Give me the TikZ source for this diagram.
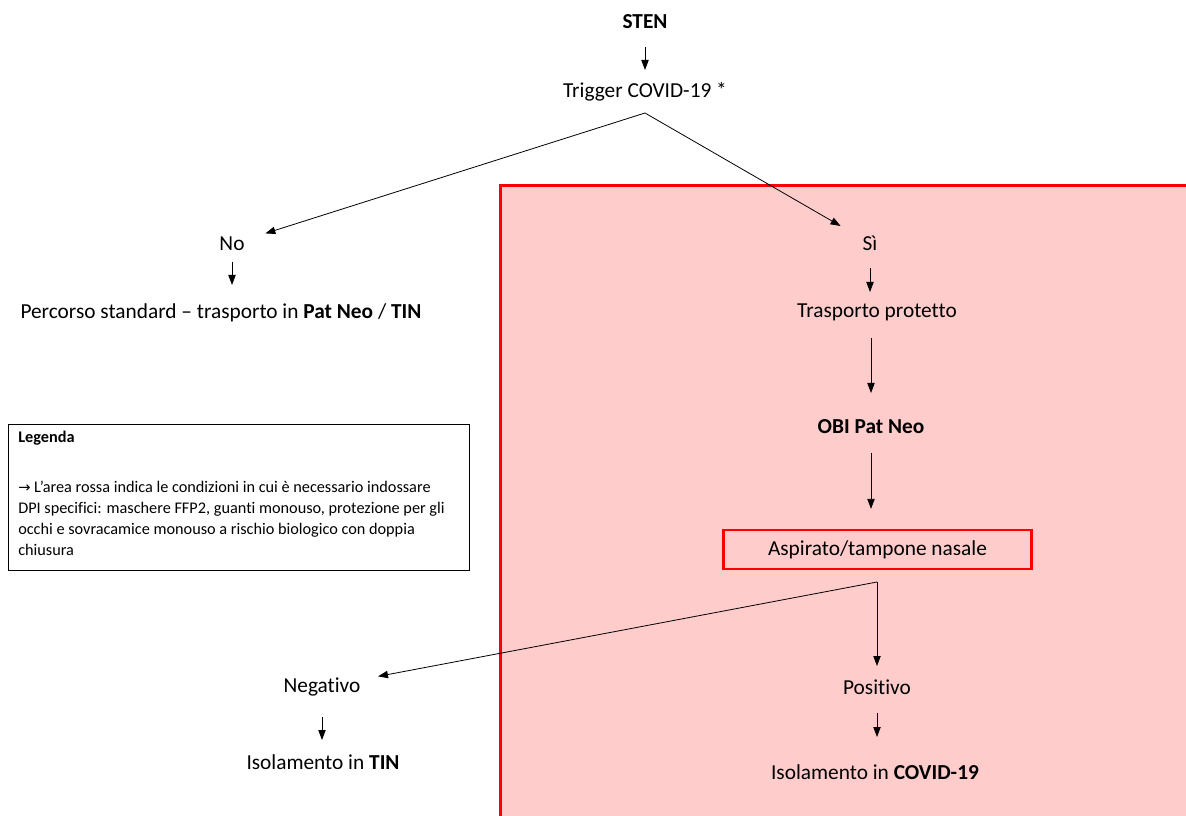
\documentclass[tikz,border=0pt]{standalone}
\usepackage{fontspec}
\setmainfont{Carlito}[Ligatures=NoCommon]
\newfontfamily\symfont{DejaVu Sans}
\usetikzlibrary{arrows.meta}
\definecolor{areapink}{RGB}{255,204,204}
\definecolor{areared}{RGB}{255,0,0}
\tikzset{
  txt/.style={inner sep=0.75pt, font=\fontsize{16}{19}\selectfont},
  arr/.style={-{Triangle[length=7.5pt,width=5.5pt]}, line width=0.6pt},
}
\begin{document}
\begin{tikzpicture}[x=0.75pt,y=0.75pt,yscale=-1,xscale=1]
\useasboundingbox (0,0) rectangle (1186,816);

%Shape: red area
\fill [areapink] (500,186) rectangle (1195,825);
\draw [areared, line width=2.25pt] (500,825) -- (500,186) -- (1195,186);

% Text Nodes
\node [txt] (sten) at (645,22) {\textbf{STEN}};
\node [txt] (trig) at (645,92) {Trigger COVID-19 *};
\coordinate (split1) at (645,113);
\node [txt] (no) at (232,244) {No};
\node [txt] (perc) at (221,313) {Percorso standard -- trasporto in \textbf{Pat Neo} / \textbf{TIN}};
\node [txt] (si) at (870,243) {Sì};
\node [txt] (trasp) at (877,312) {Trasporto protetto};
\node [txt] (obi) at (871,427) {\textbf{OBI Pat Neo}};
\node [txt, draw=areared, line width=1.9pt, fill=areapink, minimum width=231pt, minimum height=29pt] (asp) at (877.5,549.5) {Aspirato/tampone nasale};
\coordinate (split2) at (877,582);
\node [txt] (neg) at (322,687) {Negativo};
\node [txt] (isotin) at (323,762) {Isolamento in \textbf{TIN}};
\node [txt] (pos) at (877,687) {Positivo};
\node [txt] (isocov) at (875,772) {Isolamento in \textbf{COVID-19}};

%Shape: legend
\draw [line width=0.6pt] (8,424) rectangle (469,570);
\node [inner sep=0pt, anchor=west, font=\fontsize{12.2}{15.75}\selectfont\bfseries] (legtitle) at (18,438) {Legenda};
\node [inner sep=0pt, anchor=north west, align=left, font=\fontsize{12.2}{15.75}\selectfont] (legbody) at (18,481) {{\symfont\fontsize{11}{15.75}\selectfont →} L’area rossa indica le condizioni in cui è necessario indossare\\DPI specifici: maschere FFP2, guanti monouso, protezione per gli\\occhi e sovracamice monouso a rischio biologico con doppia\\chiusura};

% Connectors
\draw [arr, shorten <=18.75pt, shorten >=16.5pt] (sten.center) -- (trig.center);
\draw [arr, shorten >=26.25pt] (split1) -- (no.center);
\draw [arr, shorten >=25.5pt] (split1) -- (si.center);
\draw [arr, shorten <=13.5pt, shorten >=21pt] (no.center) -- (no |- perc);
\draw [arr, shorten <=18.75pt, shorten >=15pt] (si.center) -- (si |- trasp);
\draw [arr, shorten <=19.5pt, shorten >=25.5pt] (obi |- trasp) -- (obi.center);
\draw [arr, shorten <=19.5pt, shorten >=15pt] (obi.center) -- (obi |- asp.north);
\draw [arr, shorten >=42.75pt] (split2) -- (neg.center);
\draw [arr, shorten >=15.75pt] (split2) -- (pos.center);
\draw [arr, shorten <=22.5pt, shorten >=16.5pt] (neg.center) -- (neg |- isotin);
\draw [arr, shorten <=19.5pt, shorten >=26.25pt] (pos.center) -- (pos |- isocov);
\end{tikzpicture}
\end{document}
